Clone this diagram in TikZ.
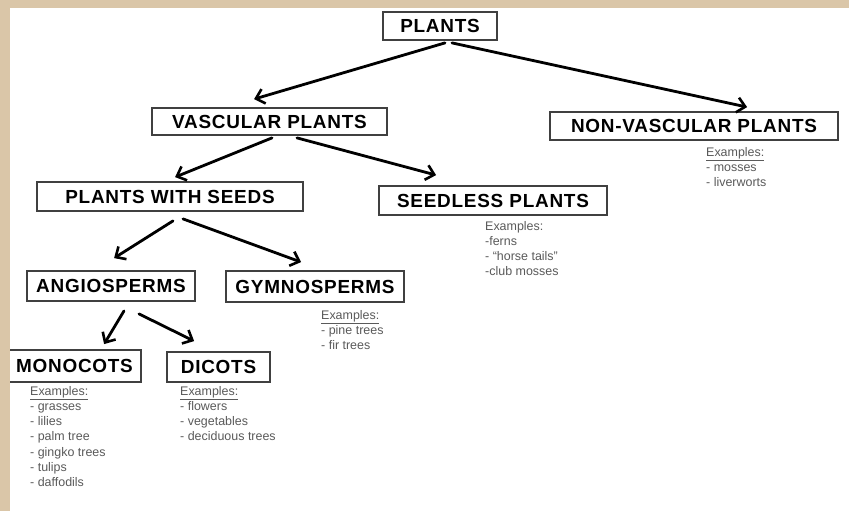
\documentclass[tikz,border=0pt]{standalone}
\usepackage{fontspec}
\setmainfont{Liberation Sans}
\usetikzlibrary{arrows.meta}
\definecolor{parch}{RGB}{218,198,168}
\definecolor{exgray}{RGB}{90,90,90}
\begin{document}
\begin{tikzpicture}[x=1bp,y=-1bp,
  box/.style={draw=black!75,line width=1.8bp,inner sep=0pt,font=\fontsize{19}{21}\selectfont\bfseries\addfontfeature{LetterSpace=4}},
  arr/.style={-{Straight Barb[length=8bp,width=15bp,line width=2.6bp]},line width=2.8bp,line cap=round},
  ex/.style={anchor=north west,align=left,inner sep=0pt,text=exgray,font=\fontsize{12.5}{15.3}\selectfont}]
\useasboundingbox (0,0) rectangle (849,511);
\fill[parch] (0,0) rectangle (849,511);
\fill[white] (10,8) rectangle (849,511);
% boxes
\node[box,minimum width=114bp,minimum height=28bp] (plants)   at (440,26)    {PLANTS};
\node[box,minimum width=235bp,minimum height=27bp] (vascular) at (269.5,121.5) {VASCULAR PLANTS};
\node[box,minimum width=288bp,minimum height=28bp] (nonvasc)  at (694,126)   {NON-VASCULAR PLANTS};
\node[box,minimum width=266bp,minimum height=29bp] (seeds)    at (170,196.5) {PLANTS WITH SEEDS};
\node[box,minimum width=228bp,minimum height=29bp] (seedless) at (493,200.5) {SEEDLESS PLANTS};
\node[box,minimum width=168bp,minimum height=30bp] (angio)    at (111,286)   {ANGIOSPERMS};
\node[box,minimum width=178bp,minimum height=31bp] (gymno)    at (315,286.5) {GYMNOSPERMS};
\node[box,minimum width=133bp,minimum height=32bp] (mono)     at (74.5,366)  {MONOCOTS};
\node[box,minimum width=103bp,minimum height=30bp] (dicots)   at (218.5,367) {DICOTS};
% arrows
\draw[arr] ([xshift=5bp,yshift=-2bp]plants.south) -- ([xshift=103bp,yshift=8bp]vascular.north west);
\draw[arr] ([xshift=12bp,yshift=-2bp]plants.south) -- ([xshift=198bp,yshift=4bp]nonvasc.north west);
\draw[arr] ([xshift=2.5bp,yshift=-2bp]vascular.south) -- ([xshift=139bp,yshift=4bp]seeds.north west);
\draw[arr] ([xshift=27.5bp,yshift=-2bp]vascular.south) -- ([xshift=58bp,yshift=10bp]seedless.north west);
\draw[arr] ([xshift=3bp,yshift=-9bp]seeds.south) -- ([xshift=88bp,yshift=12bp]angio.north west);
\draw[arr] ([xshift=13bp,yshift=-7bp]seeds.south) -- ([xshift=76bp,yshift=8bp]gymno.north west);
\draw[arr] ([xshift=13bp,yshift=-9bp]angio.south) -- ([xshift=97bp,yshift=5bp]mono.north west);
\draw[arr] ([xshift=28bp,yshift=-12bp]angio.south) -- ([xshift=28bp,yshift=10bp]dicots.north west);
% examples
\node[ex] (exnonvasc)  at (706,147) {\underline{Examples:}\\- mosses\\- liverworts};
\node[ex] (exseedless) at (485,221) {Examples:\\-ferns\\- ``horse tails''\\-club mosses};
\node[ex] (exgymno)    at (321,310) {\underline{Examples:}\\- pine trees\\- fir trees};
\node[ex] (exmono)     at (30,386)  {\underline{Examples:}\\- grasses\\- lilies\\- palm tree\\- gingko trees\\- tulips\\- daffodils};
\node[ex] (exdicots)   at (180,386) {\underline{Examples:}\\- flowers\\- vegetables\\- deciduous trees};
% left border over monocots box
\fill[parch] (0,8) rectangle (10,511);
\end{tikzpicture}
\end{document}
